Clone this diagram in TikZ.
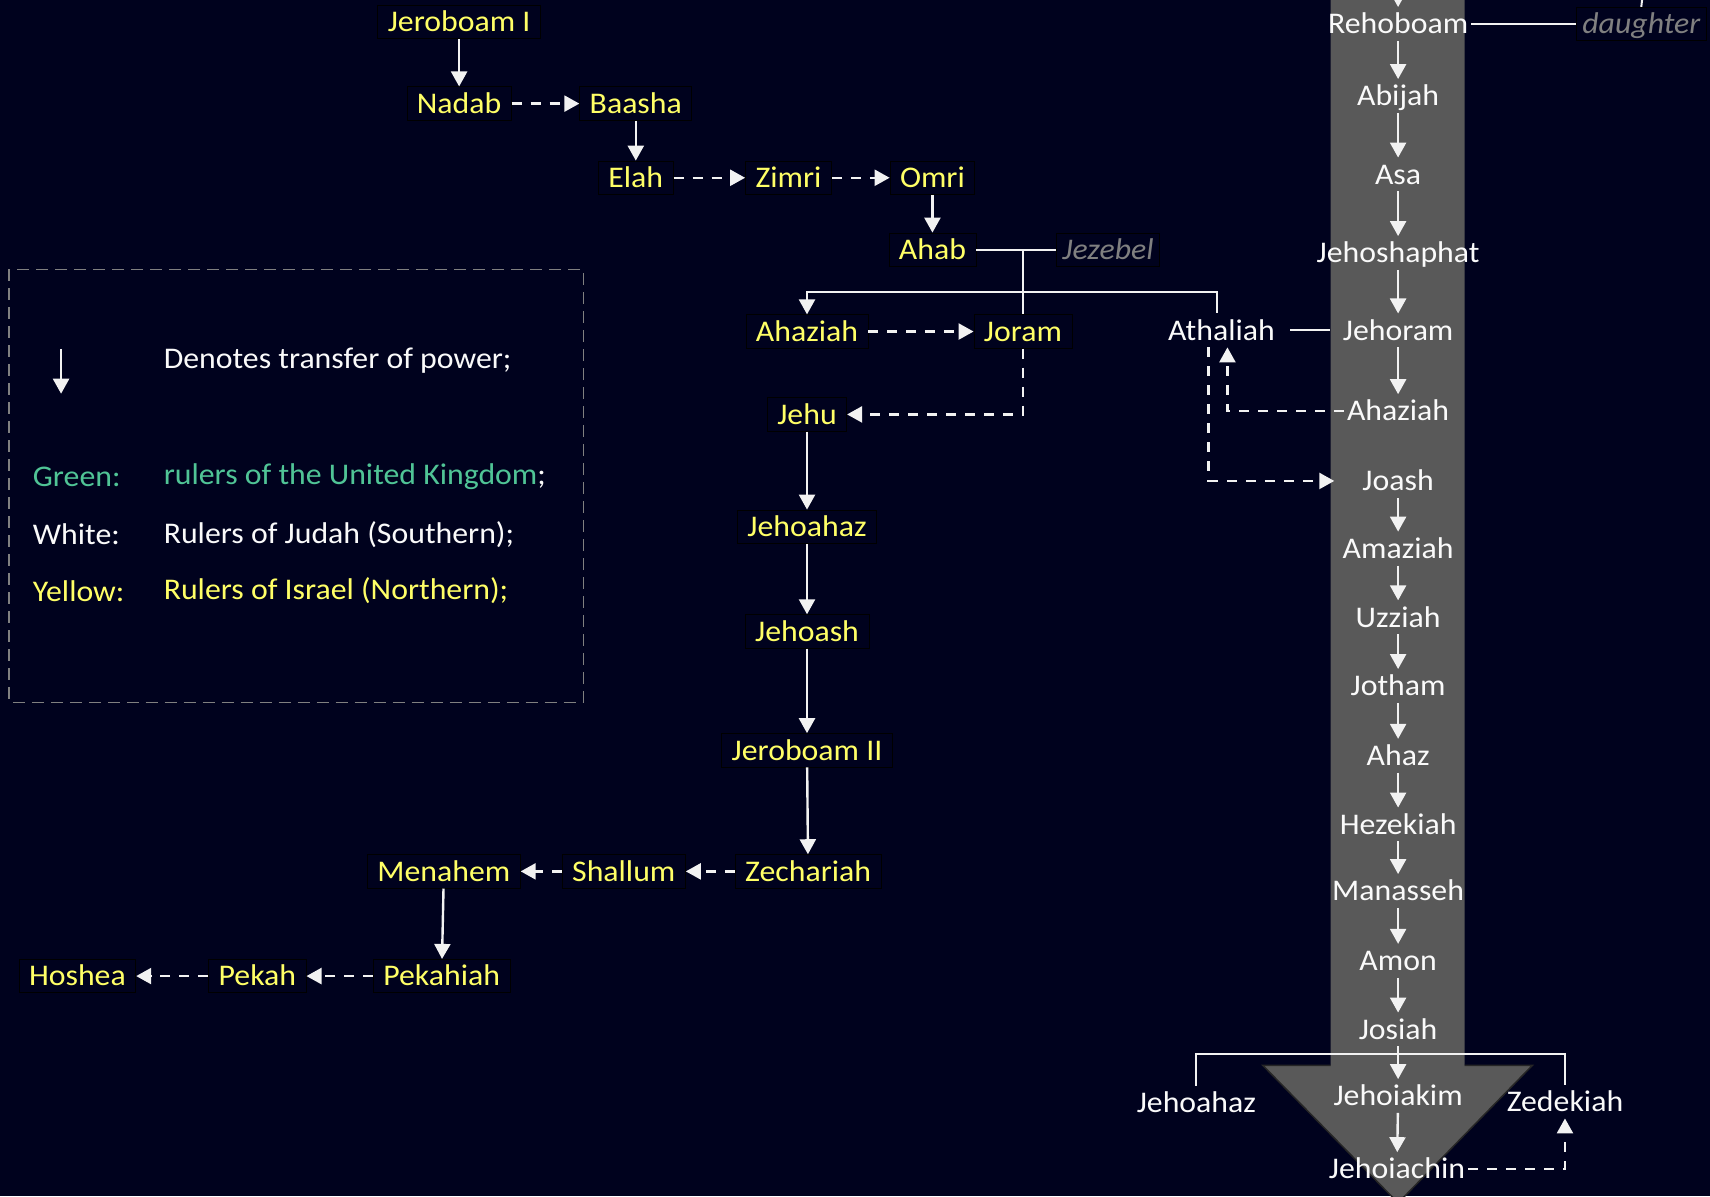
\documentclass[tikz,border=0pt]{standalone}
\usepackage{fontspec}
\setmainfont{Carlito}[FakeStretch=1.06]
\usetikzlibrary{arrows.meta}
\definecolor{bgc}{RGB}{0,2,30}
\definecolor{isrY}{RGB}{255,255,102}
\definecolor{judW}{RGB}{250,250,250}
\definecolor{lineW}{RGB}{242,242,242}
\definecolor{spouseG}{RGB}{128,128,128}
\definecolor{unitedG}{RGB}{80,196,150}
\definecolor{shaftG}{RGB}{89,89,89}
\newcommand\kfs{\fontsize{30}{36}\selectfont}
\tikzset{
  isr/.style={text=isrY, draw=black, line width=0.8pt, inner xsep=10pt, inner ysep=3pt,
              text height=23.5pt, text depth=4pt, font=\kfs},
  jud/.style={text=judW, inner xsep=3pt, inner ysep=3pt, text height=23.5pt, text depth=4pt, font=\kfs},
  spouse/.style={text=spouseG, draw=black, line width=0.8pt, inner xsep=6pt, inner ysep=3pt,
              text height=23.5pt, text depth=4pt, font=\kfs\itshape},
  legtxt/.style={anchor=west, inner sep=0pt, font=\kfs},
  pw/.style={draw=lineW, line width=2.4pt, -{Triangle[length=15pt,width=16pt]}},
  ds/.style={pw, dash pattern=on 10pt off 9pt},
  ln/.style={draw=lineW, line width=2pt},
}
\begin{document}
\begin{tikzpicture}[x=1.0906pt, y=-1.0906pt]
\fill[bgc] (0,0) rectangle (1568,1097);
\useasboundingbox (0,0) rectangle (1568,1097);

% big gray arrow of Judah
\fill[shaftG] (1220,-5) -- (1220,977) -- (1158,977) -- (1282,1103) -- (1405,977) -- (1343,977) -- (1343,-5) -- cycle;
\draw[black!85, line width=1.5pt, line join=miter] (1220,977) -- (1158,977) -- (1282,1103) -- (1405,977) -- (1343,977);

% legend
\draw[spouseG, line width=1.6pt, dash pattern=on 12pt off 7pt] (8,247) rectangle (535,644);
\coordinate (la1) at (56,320);
\coordinate (la2) at (56,361);
\draw[pw] (la1) -- (la2);
\node[legtxt, text=judW] (l0) at (150,331) {Denotes transfer of power;};
\node[legtxt, text=unitedG] (l1a) at (30,437) {Green:};
\node[legtxt, text=unitedG] (l1b) at (150,437) {rulers of the United Kingdom\textcolor{judW}{;}};
\node[legtxt, text=judW] (l2a) at (30,490) {White:};
\node[legtxt, text=judW] (l2b) at (150,490) {Rulers of Judah (Southern);};
\node[legtxt, text=isrY] (l3a) at (30,542) {Yellow:};
\node[legtxt, text=isrY] (l3b) at (150,542) {Rulers of Israel (Northern);};

% Israel
\node[isr] (jer1) at (421,20) {Jeroboam I};
\node[isr] (nadab) at (421,95) {Nadab};
\node[isr] (baasha) at (583,95) {Baasha};
\node[isr] (elah) at (583,163) {Elah};
\node[isr] (zimri) at (723,163) {Zimri};
\node[isr] (omri) at (855,163) {Omri};
\node[isr] (ahab) at (855,229) {Ahab};
\node[spouse] (jezebel) at (1016,229) {Jezebel};
\node[isr] (ahaziahI) at (740,304) {Ahaziah};
\node[isr] (joram) at (938,304) {Joram};
\node[isr] (jehu) at (740,380) {Jehu};
\node[isr] (jehoahazI) at (740,483) {Jehoahaz};
\node[isr] (jehoash) at (740,579) {Jehoash};
\node[isr] (jer2) at (740,688) {Jeroboam II};
\node[isr] (zech) at (741,799) {Zechariah};
\node[isr] (shallum) at (572,799) {Shallum};
\node[isr] (menahem) at (407,799) {Menahem};
\node[isr] (pekahiah) at (405,895) {Pekahiah};
\node[isr] (pekah) at (236,895) {Pekah};
\node[isr] (hoshea) at (71,895) {Hoshea};

% Judah
\node[jud] (rehoboam) at (1282,22) {Rehoboam};
\node[spouse] (daughter) at (1505,22) {daughter};
\node[jud] (abijah) at (1282,88) {Abijah};
\node[jud] (asa) at (1282,160) {Asa};
\node[jud] (jehoshaphat) at (1282,232) {Jehoshaphat};
\node[jud] (jehoram) at (1282,303) {Jehoram};
\node[jud] (athaliah) at (1120,303) {Athaliah};
\node[jud] (ahaziahJ) at (1282,377) {Ahaziah};
\node[jud] (joash) at (1282,441) {Joash};
\node[jud] (amaziah) at (1282,503) {Amaziah};
\node[jud] (uzziah) at (1282,566) {Uzziah};
\node[jud] (jotham) at (1282,629) {Jotham};
\node[jud] (ahaz) at (1282,693) {Ahaz};
\node[jud] (hezekiah) at (1282,756) {Hezekiah};
\node[jud] (manasseh) at (1282,817) {Manasseh};
\node[jud] (amon) at (1282,881) {Amon};
\node[jud] (josiah) at (1282,944) {Josiah};
\node[jud] (jehoiakim) at (1282,1005) {Jehoiakim};
\node[jud] (jehoiachin) at (1281,1072) {Jehoiachin};
\node[jud] (jehoahazJ) at (1097,1011) {Jehoahaz};
\node[jud] (zedekiah) at (1435,1010) {Zedekiah};

% Israel connectors
\draw[pw] (jer1) -- (nadab);
\draw[ds] (nadab) -- (baasha);
\draw[pw] (baasha) -- (elah);
\draw[ds] (elah) -- (zimri);
\draw[ds] (zimri) -- (omri);
\draw[pw] (omri) -- (ahab);
\draw[ln] (ahab) -- (jezebel);
\coordinate (mj) at (938,229);
\coordinate (mb) at (938,268);
\draw[ln] (mj) -- (joram.north);
\draw[pw] (mb) -| (ahaziahI.north);
\draw[ln] (mb) -| ([xshift=-4pt]athaliah.north);
\draw[ds] (ahaziahI) -- (joram);
\draw[ds] (joram.south) |- (jehu.east);
\draw[pw] (jehu) -- (jehoahazI);
\draw[pw] (jehoahazI) -- (jehoash);
\draw[pw] (jehoash) -- (jer2);
\draw[pw] (jer2) -- (zech);
\draw[ds] (zech) -- (shallum);
\draw[ds] (shallum) -- (menahem);
\draw[pw] (menahem) -- (pekahiah);
\draw[ds] (pekahiah) -- (pekah);
\draw[ds] (pekah) -- (hoshea);

% Judah connectors
\coordinate (ctop) at (1282,-3);
\coordinate (dtop) at (1506,-3);
\draw[pw] (ctop) -- (rehoboam);
\draw[ln] (dtop) -- (daughter.north);
\draw[ln] (rehoboam) -- (daughter);
\draw[pw] (rehoboam) -- (abijah);
\draw[pw] (abijah) -- (asa);
\draw[pw] (asa) -- (jehoshaphat);
\draw[pw] (jehoshaphat) -- (jehoram);
\draw[ln, shorten <=12pt, shorten >=10pt] (athaliah.east) -- (jehoram.west);
\draw[pw] (jehoram) -- (ahaziahJ);
\draw[ds] (ahaziahJ.west) -| ([xshift=6pt]athaliah.south);
\draw[ds, shorten >=25pt] ([xshift=-13pt]athaliah.south) |- (joash.west);
\draw[pw] (joash) -- (amaziah);
\draw[pw] (amaziah) -- (uzziah);
\draw[pw] (uzziah) -- (jotham);
\draw[pw] (jotham) -- (ahaz);
\draw[pw] (ahaz) -- (hezekiah);
\draw[pw] (hezekiah) -- (manasseh);
\draw[pw] (manasseh) -- (amon);
\draw[pw] (amon) -- (josiah);
\coordinate (jb) at (1282,966);
\draw[ln] (jehoahazJ.north) |- (jb) -| (zedekiah.north);
\draw[pw] (josiah) -- (jehoiakim);
\draw[pw] (jehoiakim) -- (jehoiachin);
\draw[ds] (jehoiachin.east) -| (zedekiah.south);
\end{tikzpicture}
\end{document}
